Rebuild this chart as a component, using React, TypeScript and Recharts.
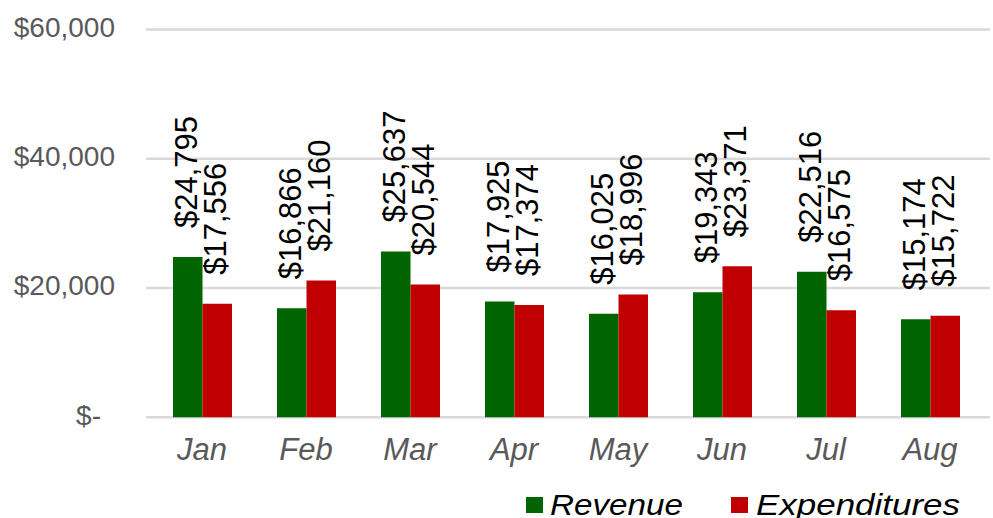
import React from 'react';
import { BarChart, Bar, XAxis, YAxis, CartesianGrid, Legend, LabelList } from 'recharts';

const months = ['Jan', 'Feb', 'Mar', 'Apr', 'May', 'Jun', 'Jul', 'Aug'];
const revenue = [24795, 16866, 25637, 17925, 16025, 19343, 22516, 15174];
const expenditures = [17556, 21160, 20544, 17374, 18996, 23371, 16575, 15722];
const yTicks = [0, 20000, 40000, 60000];
const seriesNames = ['Revenue', 'Expenditures'];

const data = months.map((m, i) => ({ month: m, revenue: revenue[i], expenditures: expenditures[i] }));

const GREEN = '#006400';
const RED = '#C00000';
const FONT = '"Liberation Sans", Arial, sans-serif';

const fmtMoney = (v: number) => (v === 0 ? '$-' : '$' + v.toLocaleString('en-US'));

const YTick = (props: any) => {
  const { x, y, payload } = props;
  const zero = payload.value === 0;
  return (
    <text x={x} y={y} dx={zero ? -37 : -23} dy={7.3} textAnchor="end" fontSize={28} fill="#595959" fontFamily={FONT}>
      {fmtMoney(payload.value)}
    </text>
  );
};

const XTick = (props: any) => {
  const { x, y, payload } = props;
  return (
    <text x={x} y={y} dy={35} textAnchor="middle" fontSize={31} fontStyle="italic" fill="#595959" fontFamily={FONT}>
      {payload.value}
    </text>
  );
};

const BarLabel = (props: any) => {
  const { x, y, width, value } = props;
  const cx = x + width / 2 + 9;
  const ty = y - 29;
  return (
    <text transform={`translate(${cx}, ${ty}) rotate(-90)`} textAnchor="start" fontSize={31} fill="#000" fontFamily={FONT}>
      {fmtMoney(value)}
    </text>
  );
};

const legendPos = [
  { sx: 526, tx: 550, tl: 133 },
  { sx: 731, tx: 756, tl: 204 },
];

const renderLegend = (props: any) => {
  const payload = [...(props.payload || [])].sort(
    (a: any, b: any) => seriesNames.indexOf(a.value) - seriesNames.indexOf(b.value)
  );
  return (
    <svg width={993} height={40} style={{ display: 'block' }}>
      {payload.map((p: any, i: number) => {
        const pos = legendPos[i] || legendPos[0];
        return (
          <g key={i}>
            <rect x={pos.sx} y={19} width={17} height={16} fill={p.color} />
            <text x={pos.tx} y={37} fontSize={30} fontStyle="italic" fill="#000" fontFamily={FONT} textLength={pos.tl} lengthAdjust="spacingAndGlyphs">
              {p.value}
            </text>
          </g>
        );
      })}
    </svg>
  );
};

export default function App() {
  return (
    <div style={{ position: 'absolute', left: 0, top: 0, width: 993, height: 518, background: '#fff' }}>
      <BarChart width={993} height={518} data={data} margin={{ top: 29.5, right: 3, left: 0, bottom: 0 }} barGap={0} barSize={29.5}>
        <CartesianGrid horizontal vertical={false} stroke="#d9d9d9" strokeWidth={2.5} />
        <XAxis dataKey="month" axisLine={false} tickLine={false} height={60.7} padding={{ left: 4, right: 8 }} tick={<XTick />} interval={0} />
        <YAxis domain={[0, 60000]} ticks={yTicks} axisLine={false} tickLine={false} width={146} tick={<YTick />} interval={0} />
        <Legend verticalAlign="bottom" content={renderLegend} wrapperStyle={{ left: 0, top: 478, width: 993, height: 40 }} />
        <Bar dataKey="revenue" name={seriesNames[0]} fill={GREEN} isAnimationActive={false}>
          <LabelList dataKey="revenue" content={<BarLabel />} />
        </Bar>
        <Bar dataKey="expenditures" name={seriesNames[1]} fill={RED} isAnimationActive={false}>
          <LabelList dataKey="expenditures" content={<BarLabel />} />
        </Bar>
      </BarChart>
    </div>
  );
}
